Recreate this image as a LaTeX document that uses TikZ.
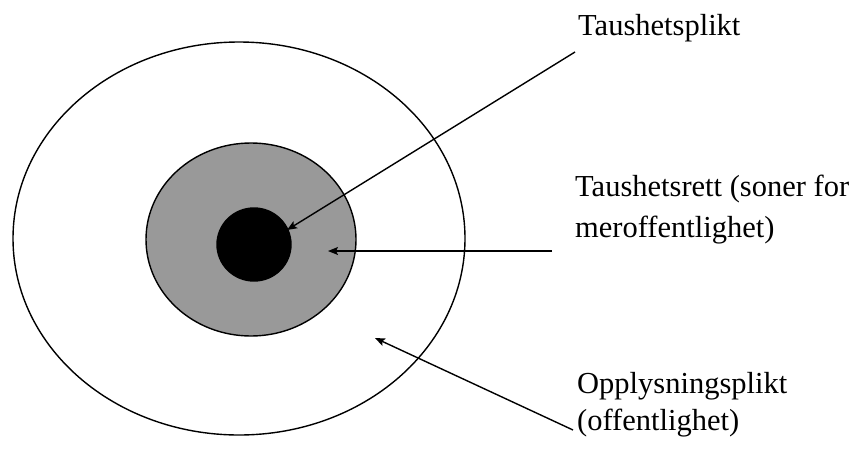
\documentclass[tikz,border=0pt]{standalone}
\usepackage{fontspec}
\setmainfont{Liberation Serif}
\usetikzlibrary{shapes.geometric,arrows.meta}
\definecolor{zonegray}{RGB}{153,153,153}
\tikzset{
  ring/.style={ellipse, draw=black, line width=1.4pt, inner sep=0pt},
  pointer/.style={draw=black, line width=1.4pt, -{Stealth[length=10pt,width=8pt,inset=2pt]}},
  lbl/.style={anchor=base west, inner sep=0pt, align=left, font=\fontsize{30.5}{41}\selectfont}
}
\begin{document}
\begin{tikzpicture}[x=1pt,y=-1pt]
\useasboundingbox (0,0) rectangle (861,474);
\fill[white] (0,0) rectangle (861,474);
% rings
\node[ring, minimum width=452pt, minimum height=393pt] (outer) at (239,238.5) {};
\node[ring, fill=zonegray, minimum width=210pt, minimum height=193pt] (mid) at (251,239.5) {};
\node[ring, fill=black, minimum width=74pt, minimum height=73pt] (core) at (254,244.5) {};
% labels
\node[lbl] (t1) at (578,35) {Taushetsplikt};
\node[lbl] (t2) at (575,237) {Taushetsrett (soner for\\meroffentlighet)};
\node[lbl, font=\fontsize{30.5}{37}\selectfont] (t3) at (577,430) {Opplysningsplikt\\(offentlighet)};
% arrow ends
\coordinate (s1) at (575,52);
\coordinate (e1) at (287,230);
\coordinate (s2) at (552,251);
\coordinate (e2) at (328,251);
\coordinate (s3) at (573,430);
\coordinate (e3) at (375,338);
\draw[pointer] (s1) -- (e1);
\draw[pointer] (s2) -- (e2);
\draw[pointer] (s3) -- (e3);
\end{tikzpicture}
\end{document}
